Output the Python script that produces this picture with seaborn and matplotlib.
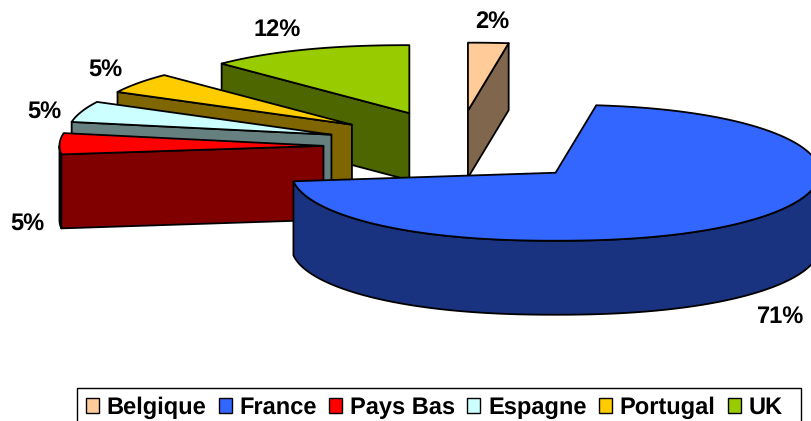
import numpy as np
import matplotlib
matplotlib.use('Agg')
import matplotlib.pyplot as plt
from matplotlib.patches import Polygon, Patch, Rectangle
import seaborn as sns

pays = ['Belgique', 'France', 'Pays Bas', 'Espagne', 'Portugal', 'UK']
valeurs = [2, 71, 5, 5, 5, 12]
couleurs = ['#FFCC99', '#3366FF', '#FF0000', '#CCFFFF', '#FFCC00', '#99CC00']

# centre de l'etiquette, en pixels de l'image
pos_etiquettes = [(492, 22), (781, 317), (27, 224), (44, 112), (105, 70), (277, 30)]

sns.set_theme(style='white')
plt.rcParams['font.family'] = ['Liberation Sans', 'DejaVu Sans']
plt.rcParams['text.hinting'] = 'none'
palette = sns.color_palette(couleurs)

# === projection du camembert 3D ===
CX, CY = 459.4, 147     # centre avant eclatement
RX, RY = 264, 68        # rayons de l'ellipse
EX, EY = 136, 36.4      # eclatement
P = 0.90                # deforme un peu l'ellipse comme Excel
LW = 1.3


def arc(t1, t2, cx, cy):
    t = np.radians(np.linspace(t1, t2, max(int(abs(t2 - t1)) * 2, 2)))
    s = np.sin(t)
    x = cx + RX * np.sign(s) * np.abs(s) ** P
    y = cy - RY * np.cos(t)
    return np.column_stack([x, y])


def face(ax, pts, color):
    ax.add_patch(Polygon(pts, closed=True, facecolor=color, edgecolor='black',
                         linewidth=LW, joinstyle='round'))


def extrude(pts, depth):
    return np.vstack([pts, (pts + [0, depth])[::-1]])


fig = plt.figure(figsize=(8.11, 4.21), dpi=100, facecolor='white')
ax = fig.add_axes([0, 0, 1, 1])
ax.set_xlim(0, 811)
ax.set_ylim(421, 0)
ax.axis('off')

bornes = np.cumsum([0] + valeurs) / sum(valeurs) * 360

# du fond vers l'avant
for i in [5, 4, 3, 2, 0, 1]:
    t1, t2 = bornes[i], bornes[i + 1]
    mid = np.radians((t1 + t2) / 2)
    cx = CX + EX * np.sin(mid)
    cy = CY - EY * np.cos(mid)
    depth = 74 if cy > 140 else 67
    couleur = palette[i]
    sombre = tuple(np.array(couleur) * 0.5)
    apex = np.array([cx, cy])

    # flanc exterieur (partie visible seulement)
    a, b = max(t1, 90), min(t2, 270)
    if a < b:
        face(ax, extrude(arc(a, b, cx, cy), depth), sombre)

    # faces radiales tournees vers nous
    if np.sin(np.radians(t1)) < -1e-6:
        face(ax, extrude(np.vstack([apex, arc(t1, t1, cx, cy)[:1]]), depth), sombre)
    if np.sin(np.radians(t2)) > 1e-6:
        face(ax, extrude(np.vstack([apex, arc(t2, t2, cx, cy)[:1]]), depth), sombre)

    # dessus
    face(ax, np.vstack([apex, arc(t1, t2, cx, cy)]), couleur)

for v, (x, y) in zip(valeurs, pos_etiquettes):
    ax.text(x, y, f'{v}%', ha='center', va='center', fontsize=17,
            fontweight='bold', color='black')

# cadre de la legende : il depasse en bas de l'image
ax.add_patch(Rectangle((77, 387.5), 724, 60, fill=False, edgecolor='black', linewidth=1.0))

poignees = [Patch(facecolor=c, edgecolor='black', linewidth=1.0, label=p)
            for p, c in zip(pays, palette)]
leg = ax.legend(handles=poignees, loc='upper left', bbox_to_anchor=(77, 387.5),
                bbox_transform=ax.transData, ncols=6,
                prop={'weight': 'bold', 'size': 17}, frameon=False,
                labelcolor='black', borderaxespad=0, borderpad=0.38,
                handlelength=0.55, handleheight=0.55, handletextpad=0.32,
                columnspacing=0.53)

plt.savefig('out.png', dpi=100)
